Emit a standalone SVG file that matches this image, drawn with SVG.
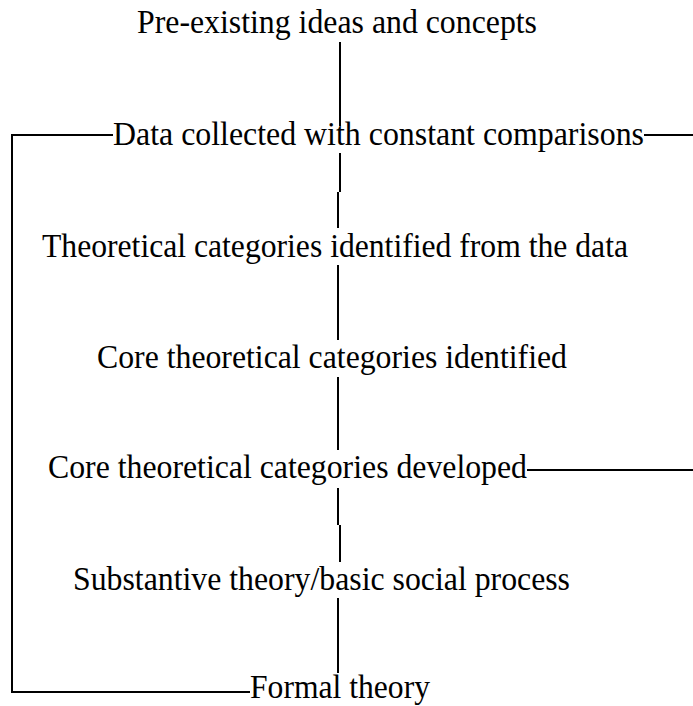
<svg xmlns="http://www.w3.org/2000/svg" width="693" height="706" viewBox="0 0 693 706">
<style>
.t{font-family:"Liberation Serif","Times New Roman",serif;font-size:33px;fill:#000}
.c{stroke:#000;stroke-width:2;fill:none}
</style>
<rect width="693" height="706" fill="#fff"/>
<g id="connectors">
<line class="c" x1="340" y1="42" x2="340" y2="126"/>
<line class="c" x1="340" y1="153" x2="340" y2="192"/>
<line class="c" x1="338" y1="192" x2="338" y2="228"/>
<line class="c" x1="338" y1="265" x2="338" y2="340"/>
<line class="c" x1="338" y1="377" x2="338" y2="450"/>
<line class="c" x1="338" y1="488" x2="338" y2="525"/>
<line class="c" x1="340" y1="525" x2="340" y2="562"/>
<line class="c" x1="338" y1="598" x2="338" y2="673"/>
<polyline class="c" points="113,135 12,135 12,692 250,692"/>
<line class="c" x1="644" y1="135" x2="693" y2="135"/>
<line class="c" x1="527" y1="470" x2="693" y2="470"/>
</g>
<g id="n1"><text class="t" x="137" y="33" textLength="400" lengthAdjust="spacingAndGlyphs">Pre-existing ideas and concepts</text></g>
<g id="n2"><text class="t" x="113" y="145" textLength="531" lengthAdjust="spacingAndGlyphs">Data collected with constant comparisons</text></g>
<g id="n3"><text class="t" x="42" y="257" textLength="586" lengthAdjust="spacingAndGlyphs">Theoretical categories identified from the data</text></g>
<g id="n4"><text class="t" x="97" y="368" textLength="470" lengthAdjust="spacingAndGlyphs">Core theoretical categories identified</text></g>
<g id="n5"><text class="t" x="48" y="478" textLength="479" lengthAdjust="spacingAndGlyphs">Core theoretical categories developed</text></g>
<g id="n6"><text class="t" x="73" y="590" textLength="497" lengthAdjust="spacingAndGlyphs">Substantive theory/basic social process</text></g>
<g id="n7"><text class="t" x="250" y="698" textLength="180" lengthAdjust="spacingAndGlyphs">Formal theory</text></g>
</svg>
